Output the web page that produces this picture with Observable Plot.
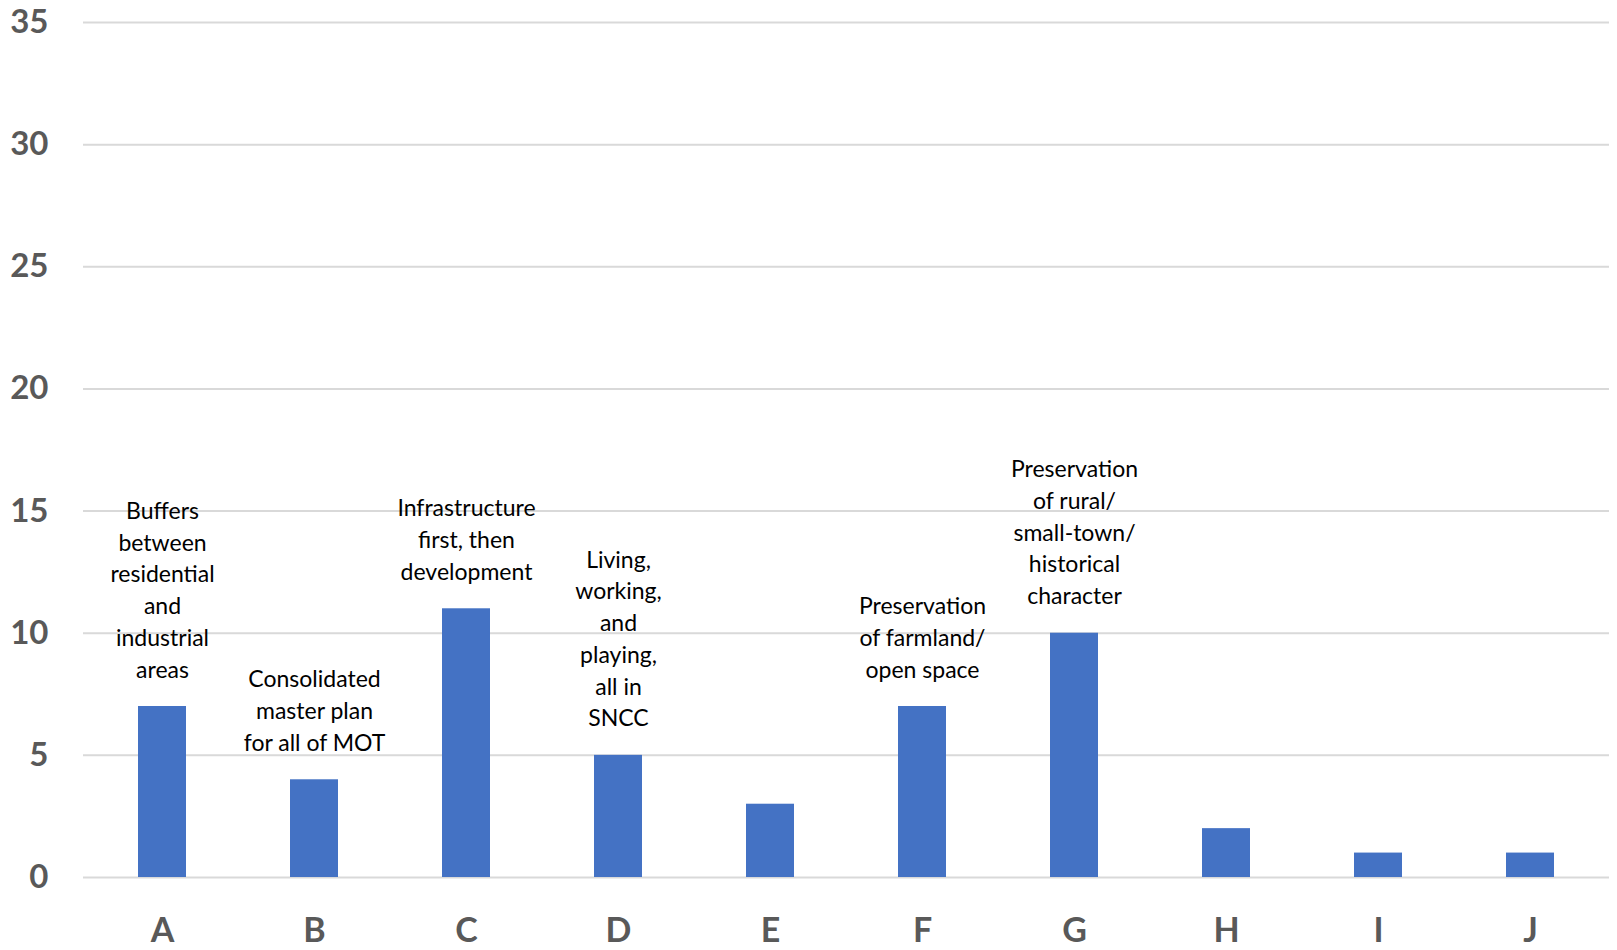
<!DOCTYPE html>
<html>
<head>
<meta charset="utf-8">
<script src="https://cdn.jsdelivr.net/npm/d3@7"></script>
<script src="https://cdn.jsdelivr.net/npm/@observablehq/plot@0.6"></script>
<style>
  html, body { margin: 0; padding: 0; background: #fff; }
  #chart svg { display: block; }
</style>
</head>
<body>
<div id="chart"></div>
<script>
const categories = ["A", "B", "C", "D", "E", "F", "G", "H", "I", "J"];
const values = [7, 4, 11, 5, 3, 7, 10, 2, 1, 1];
const labels = [
  "Buffers\nbetween\nresidential\nand\nindustrial\nareas",
  "Consolidated\nmaster plan\nfor all of MOT",
  "Infrastructure\nfirst, then\ndevelopment",
  "Living,\nworking,\nand\nplaying,\nall in\nSNCC",
  "",
  "Preservation\nof farmland/\nopen space",
  "Preservation\nof rural/\nsmall-town/\nhistorical\ncharacter",
  "", "", ""
];
const yTicks = [0, 5, 10, 15, 20, 25, 30, 35];

const data = categories.map((c, i) => ({cat: c, value: values[i], label: labels[i]}));

const chart = Plot.plot({
  width: 1617,
  height: 950,
  marginLeft: 83,
  marginRight: 8,
  marginTop: 22,
  marginBottom: 73,
  style: {fontFamily: "Lato, 'Open Sans', sans-serif", background: "#fff"},
  x: {domain: categories, paddingInner: 0.685, paddingOuter: 0.3425, label: null},
  y: {domain: [0, 35], ticks: yTicks, label: null},
  marks: [
    Plot.gridY(yTicks, {stroke: "#d9d9d9", strokeOpacity: 1, strokeWidth: 2}),
    Plot.axisY(yTicks, {tickSize: 0, tickPadding: 35, fontSize: 33, fontWeight: "bold", color: "#595959", label: null}),
    Plot.axisX({tickSize: 0, tickPadding: 40, fontSize: 34, fontWeight: "bold", color: "#595959", label: null}),
    Plot.barY(data, {x: "cat", y: "value", fill: "#4472C4"}),
    Plot.text(data.filter(d => d.label), {
      x: "cat", y: "value", text: "label",
      lineAnchor: "bottom", lineHeight: 1.38, dy: -29,
      fontSize: 23, fill: "#000"
    })
  ]
});
document.getElementById("chart").append(chart);
</script>
</body>
</html>
